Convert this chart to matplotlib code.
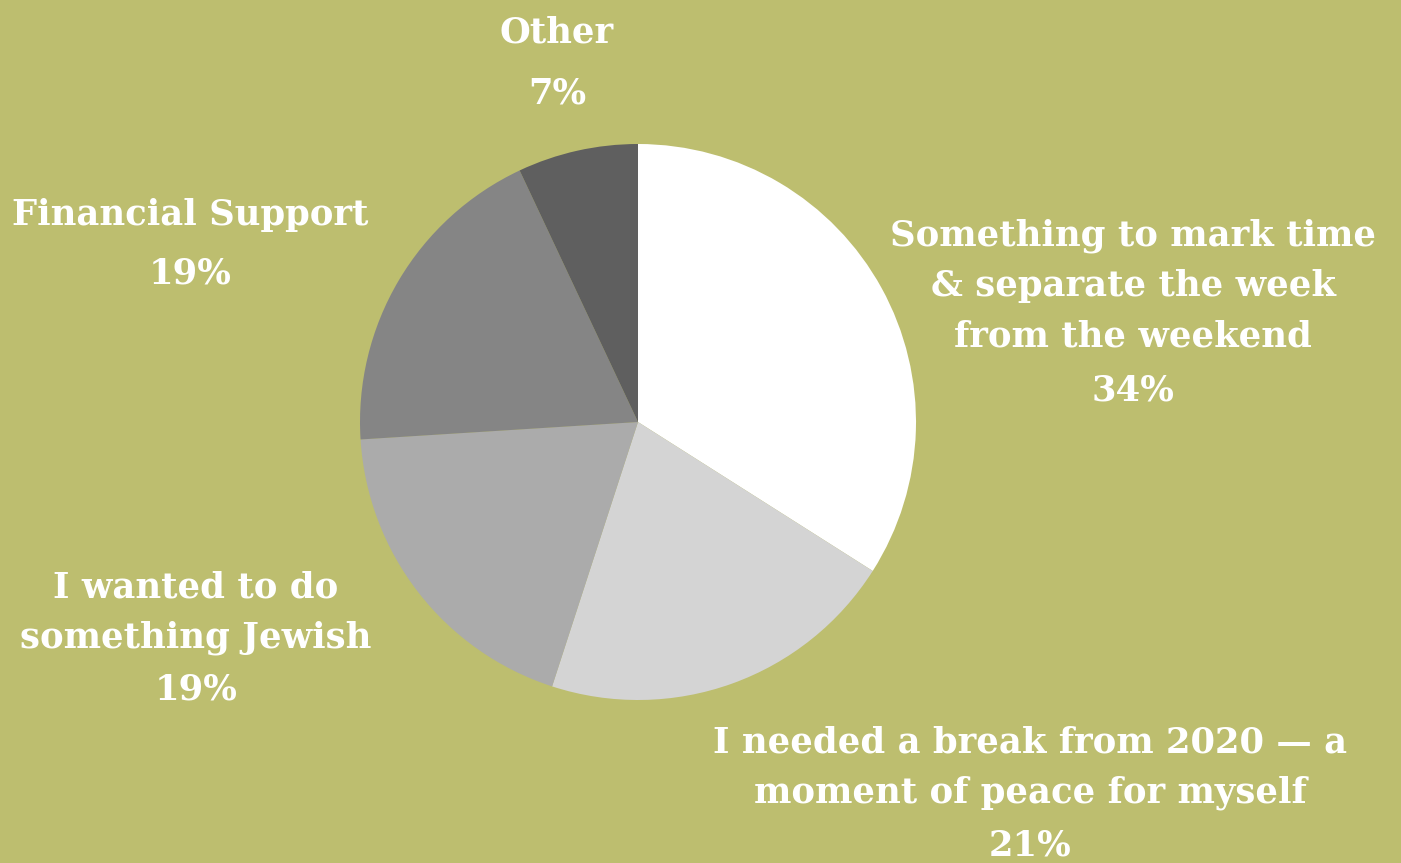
import matplotlib.pyplot as plt

# survey answers
labels = ["Something to mark time\n& separate the week\nfrom the weekend",
          "I needed a break from 2020 \u2014 a\nmoment of peace for myself",
          "I wanted to do\nsomething Jewish",
          "Financial Support",
          "Other"]
values = [34, 21, 19, 19, 7]
colors = ["#ffffff", "#d4d4d4", "#ababab", "#858585", "#5f5f5f"]

# label placement (pixels from top-left): name centre, pct centre
name_pos = [(1133, 286), (1030, 768), (196, 613), (190, 215), (557, 32)]
pct_pos = [(1133, 390), (1030, 846), (196, 690), (190, 273), (557, 93)]

W, H = 1401, 863
bg = "#bdbe6f"
fig = plt.figure(figsize=(W / 100, H / 100), dpi=100, facecolor=bg)
ax = fig.add_axes([0, 0, 1, 1])
ax.set_facecolor(bg)

ax.pie(values, colors=colors, startangle=90, counterclock=False,
       center=(638, H - 422), radius=278, frame=True,
       wedgeprops=dict(linewidth=0))
ax.set_xlim(0, W)
ax.set_ylim(0, H)
ax.set_aspect("equal")
ax.axis("off")

font = dict(family="DejaVu Serif", fontweight="bold", color="white", fontsize=25.5)
for lab, v, (nx, ny), (px, py) in zip(labels, values, name_pos, pct_pos):
    ax.text(nx, H - ny, lab, ha="center", va="center", linespacing=1.6, **font)
    ax.text(px, H - py, f"{v}%", ha="center", va="center", **font)

fig.savefig("out.png", dpi=100, facecolor=bg)
